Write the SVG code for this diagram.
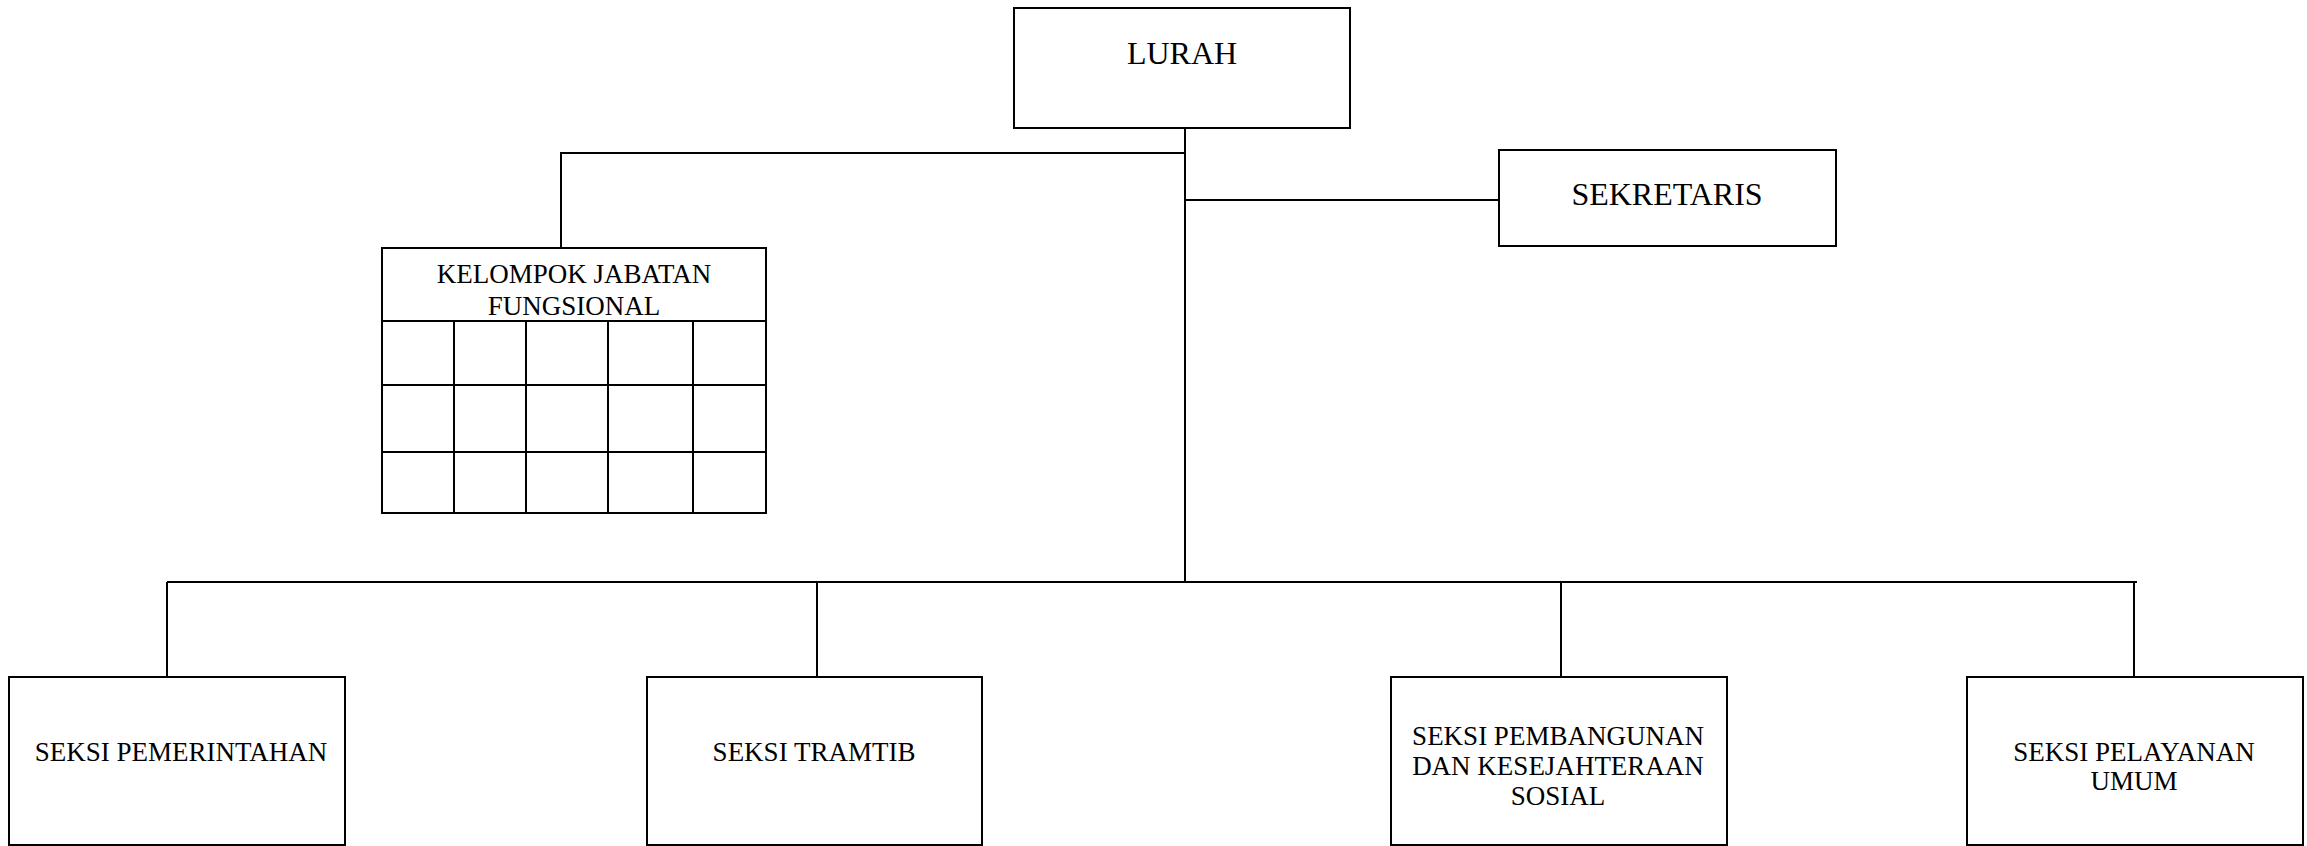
<svg xmlns="http://www.w3.org/2000/svg" width="2307" height="846" viewBox="0 0 2307 846">
<style>
.box{fill:#fff;stroke:#000;stroke-width:2}
.ln{fill:none;stroke:#000;stroke-width:2}
text{font-family:"Liberation Serif","Times New Roman",serif;fill:#000;text-anchor:middle}
.t26{font-size:27px}
</style>
<rect width="2307" height="846" fill="#fff"/>
<g id="connectors">
<path class="ln" d="M1185 125 V582"/>
<path class="ln" d="M1185 153 H561 V248"/>
<path class="ln" d="M1185 200 H1499"/>
<path class="ln" d="M167 582 H2137"/>
<path class="ln" d="M167 582 V677"/>
<path class="ln" d="M817 582 V677"/>
<path class="ln" d="M1561 582 V677"/>
<path class="ln" d="M2134 582 V677"/>
</g>
<g id="lurah">
<rect class="box" x="1014" y="8" width="336" height="120"/>
<text x="1182" y="64" font-size="32">LURAH</text>
</g>
<g id="sekretaris">
<rect class="box" x="1499" y="150" width="337" height="96"/>
<text x="1667" y="205" font-size="32">SEKRETARIS</text>
</g>
<g id="kelompok">
<rect class="box" x="382" y="248" width="384" height="265"/>
<path class="ln" d="M382 321 H766 M382 385 H766 M382 452 H766 M454 321 V513 M526 321 V513 M608 321 V513 M693 321 V513"/>
<text class="t26" x="574" y="283">KELOMPOK JABATAN</text>
<text class="t26" x="574" y="315">FUNGSIONAL</text>
</g>
<g id="pemerintahan">
<rect class="box" x="9" y="677" width="336" height="168"/>
<text class="t26" x="181" y="761">SEKSI PEMERINTAHAN</text>
</g>
<g id="tramtib">
<rect class="box" x="647" y="677" width="335" height="168"/>
<text class="t26" x="814" y="761">SEKSI TRAMTIB</text>
</g>
<g id="pembangunan">
<rect class="box" x="1391" y="677" width="336" height="168"/>
<text class="t26" x="1558" y="745">SEKSI PEMBANGUNAN</text>
<text class="t26" x="1558" y="775">DAN KESEJAHTERAAN</text>
<text class="t26" x="1558" y="805">SOSIAL</text>
</g>
<g id="pelayanan">
<rect class="box" x="1967" y="677" width="336" height="168"/>
<text class="t26" x="2134" y="761">SEKSI PELAYANAN</text>
<text class="t26" x="2134" y="790">UMUM</text>
</g>
</svg>
